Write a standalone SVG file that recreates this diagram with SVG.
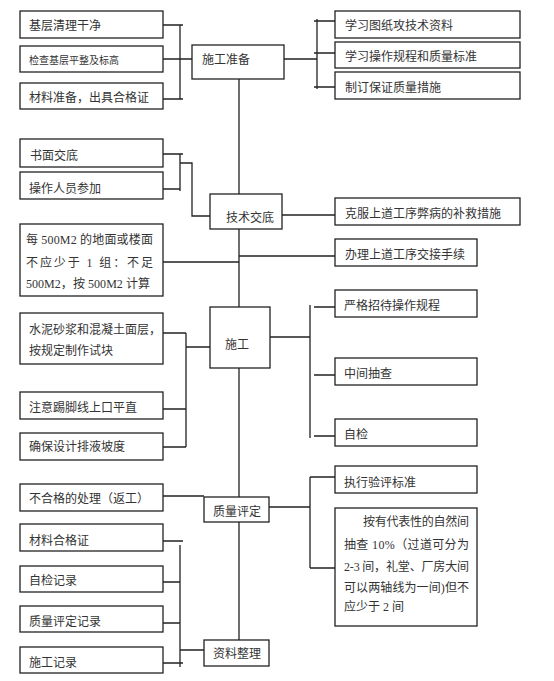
<svg xmlns="http://www.w3.org/2000/svg" width="554" height="681" viewBox="0 0 554 681">
<style>
rect{fill:#fff;stroke:#222;stroke-width:1.3}
text{font-family:"Liberation Serif","Noto Sans CJK SC",sans-serif;font-size:12px;fill:#333;dominant-baseline:central}
#connectors path{fill:none;stroke:#222;stroke-width:1.3}
</style>
<rect x="0" y="0" width="554" height="681" style="stroke:none"/>
<g id="connectors">
<path d="M163,25H183M180,25V99M163,59H192M163,99H183"/>
<path d="M284,59H317M317,19V89M314,21H335M314,53H335M314,87H335"/>
<path d="M239,79V194M239,229V307M239,368V497M239,522V640"/>
<path d="M163,154H183M180,154V191M163,189H180M180,163H192V216H210"/>
<path d="M282,215H335"/>
<path d="M163,262H239M239,256H335"/>
<path d="M163,333H186M186,333V447M163,409H186M163,447H186M186,347H210"/>
<path d="M270,337H310M310,305V438M314,307H335M314,375H335M314,436H335"/>
<path d="M163,496H204"/>
<path d="M269,507H310M310,477V568M310,477H335M310,568H335"/>
<path d="M163,541H183M180,545V667M163,582H180M163,623H180M163,663H183M180,650H204"/>
</g>
<g id="n1"><rect x="20" y="11" width="143" height="27"/><text x="29" y="26">基层清理干净</text></g>
<g id="n2"><rect x="20" y="46" width="143" height="26"/><text x="29" y="60" style="font-size:10px">检查基层平整及标高</text></g>
<g id="n3"><rect x="20" y="83" width="143" height="26"/><text x="29" y="98">材料准备，出具合格证</text></g>
<g id="n4"><rect x="20" y="139" width="143" height="28"/><text x="30" y="156">书面交底</text></g>
<g id="n5"><rect x="20" y="172" width="143" height="27"/><text x="29" y="189">操作人员参加</text></g>
<g id="n6"><rect x="20" y="224" width="143" height="72"/>
<text x="26" y="240" textLength="127" lengthAdjust="spacing">每 500M2 的地面或楼面</text>
<text x="26" y="263" textLength="127" lengthAdjust="spacing">不应少于 1 组：不足</text>
<text x="26" y="284" textLength="124" lengthAdjust="spacing">500M2，按 500M2 计算</text></g>
<g id="n7"><rect x="20" y="313" width="143" height="51"/><text x="29" y="330">水泥砂浆和混凝土面层，</text><text x="29" y="351">按规定制作试块</text></g>
<g id="n8"><rect x="20" y="392" width="143" height="27"/><text x="29" y="408">注意踢脚线上口平直</text></g>
<g id="n9"><rect x="20" y="433" width="143" height="27"/><text x="29" y="447">确保设计排液坡度</text></g>
<g id="n10"><rect x="20" y="484" width="143" height="27"/><text x="29" y="499">不合格的处理（返工）</text></g>
<g id="n11"><rect x="20" y="524" width="143" height="27"/><text x="29" y="541">材料合格证</text></g>
<g id="n12"><rect x="20" y="566" width="143" height="26"/><text x="29" y="581">自检记录</text></g>
<g id="n13"><rect x="20" y="606" width="143" height="26"/><text x="29" y="622">质量评定记录</text></g>
<g id="n14"><rect x="20" y="647" width="143" height="26"/><text x="29" y="663">施工记录</text></g>
<g id="c1"><rect x="192" y="45" width="92" height="34"/><text x="202" y="60">施工准备</text></g>
<g id="c2"><rect x="210" y="194" width="72" height="35"/><text x="226" y="218">技术交底</text></g>
<g id="c3"><rect x="210" y="307" width="60" height="61"/><text x="225" y="345">施工</text></g>
<g id="c4"><rect x="204" y="497" width="65" height="25"/><text x="213" y="512">质量评定</text></g>
<g id="c5"><rect x="204" y="640" width="65" height="26"/><text x="213" y="654">资料整理</text></g>
<g id="r1"><rect x="335" y="11" width="185" height="27"/><text x="345" y="26">学习图纸攻技术资料</text></g>
<g id="r2"><rect x="335" y="42" width="185" height="26"/><text x="345" y="57">学习操作规程和质量标准</text></g>
<g id="r3"><rect x="335" y="72" width="185" height="27"/><text x="345" y="88">制订保证质量措施</text></g>
<g id="r4"><rect x="335" y="198" width="185" height="27"/><text x="345" y="214">克服上道工序弊病的补救措施</text></g>
<g id="r5"><rect x="335" y="239" width="142" height="27"/><text x="345" y="255">办理上道工序交接手续</text></g>
<g id="r6"><rect x="335" y="290" width="142" height="27"/><text x="344" y="306">严格招待操作规程</text></g>
<g id="r7"><rect x="335" y="358" width="142" height="27"/><text x="344" y="374">中间抽查</text></g>
<g id="r8"><rect x="335" y="419" width="142" height="27"/><text x="344" y="435">自检</text></g>
<g id="r9"><rect x="335" y="466" width="142" height="27"/><text x="344" y="483">执行验评标准</text></g>
<g id="r10"><rect x="335" y="508" width="142" height="118"/>
<text x="363" y="522" textLength="106" lengthAdjust="spacing">按有代表性的自然间</text>
<text x="344" y="545" textLength="125" lengthAdjust="spacing">抽查  10%（过道可分为</text>
<text x="344" y="567" textLength="125" lengthAdjust="spacing">2-3 间，礼堂、厂房大间</text>
<text x="344" y="588" textLength="125" lengthAdjust="spacing">可以两轴线为一间)但不</text>
<text x="344" y="607">应少于 2 间</text></g>
</svg>
